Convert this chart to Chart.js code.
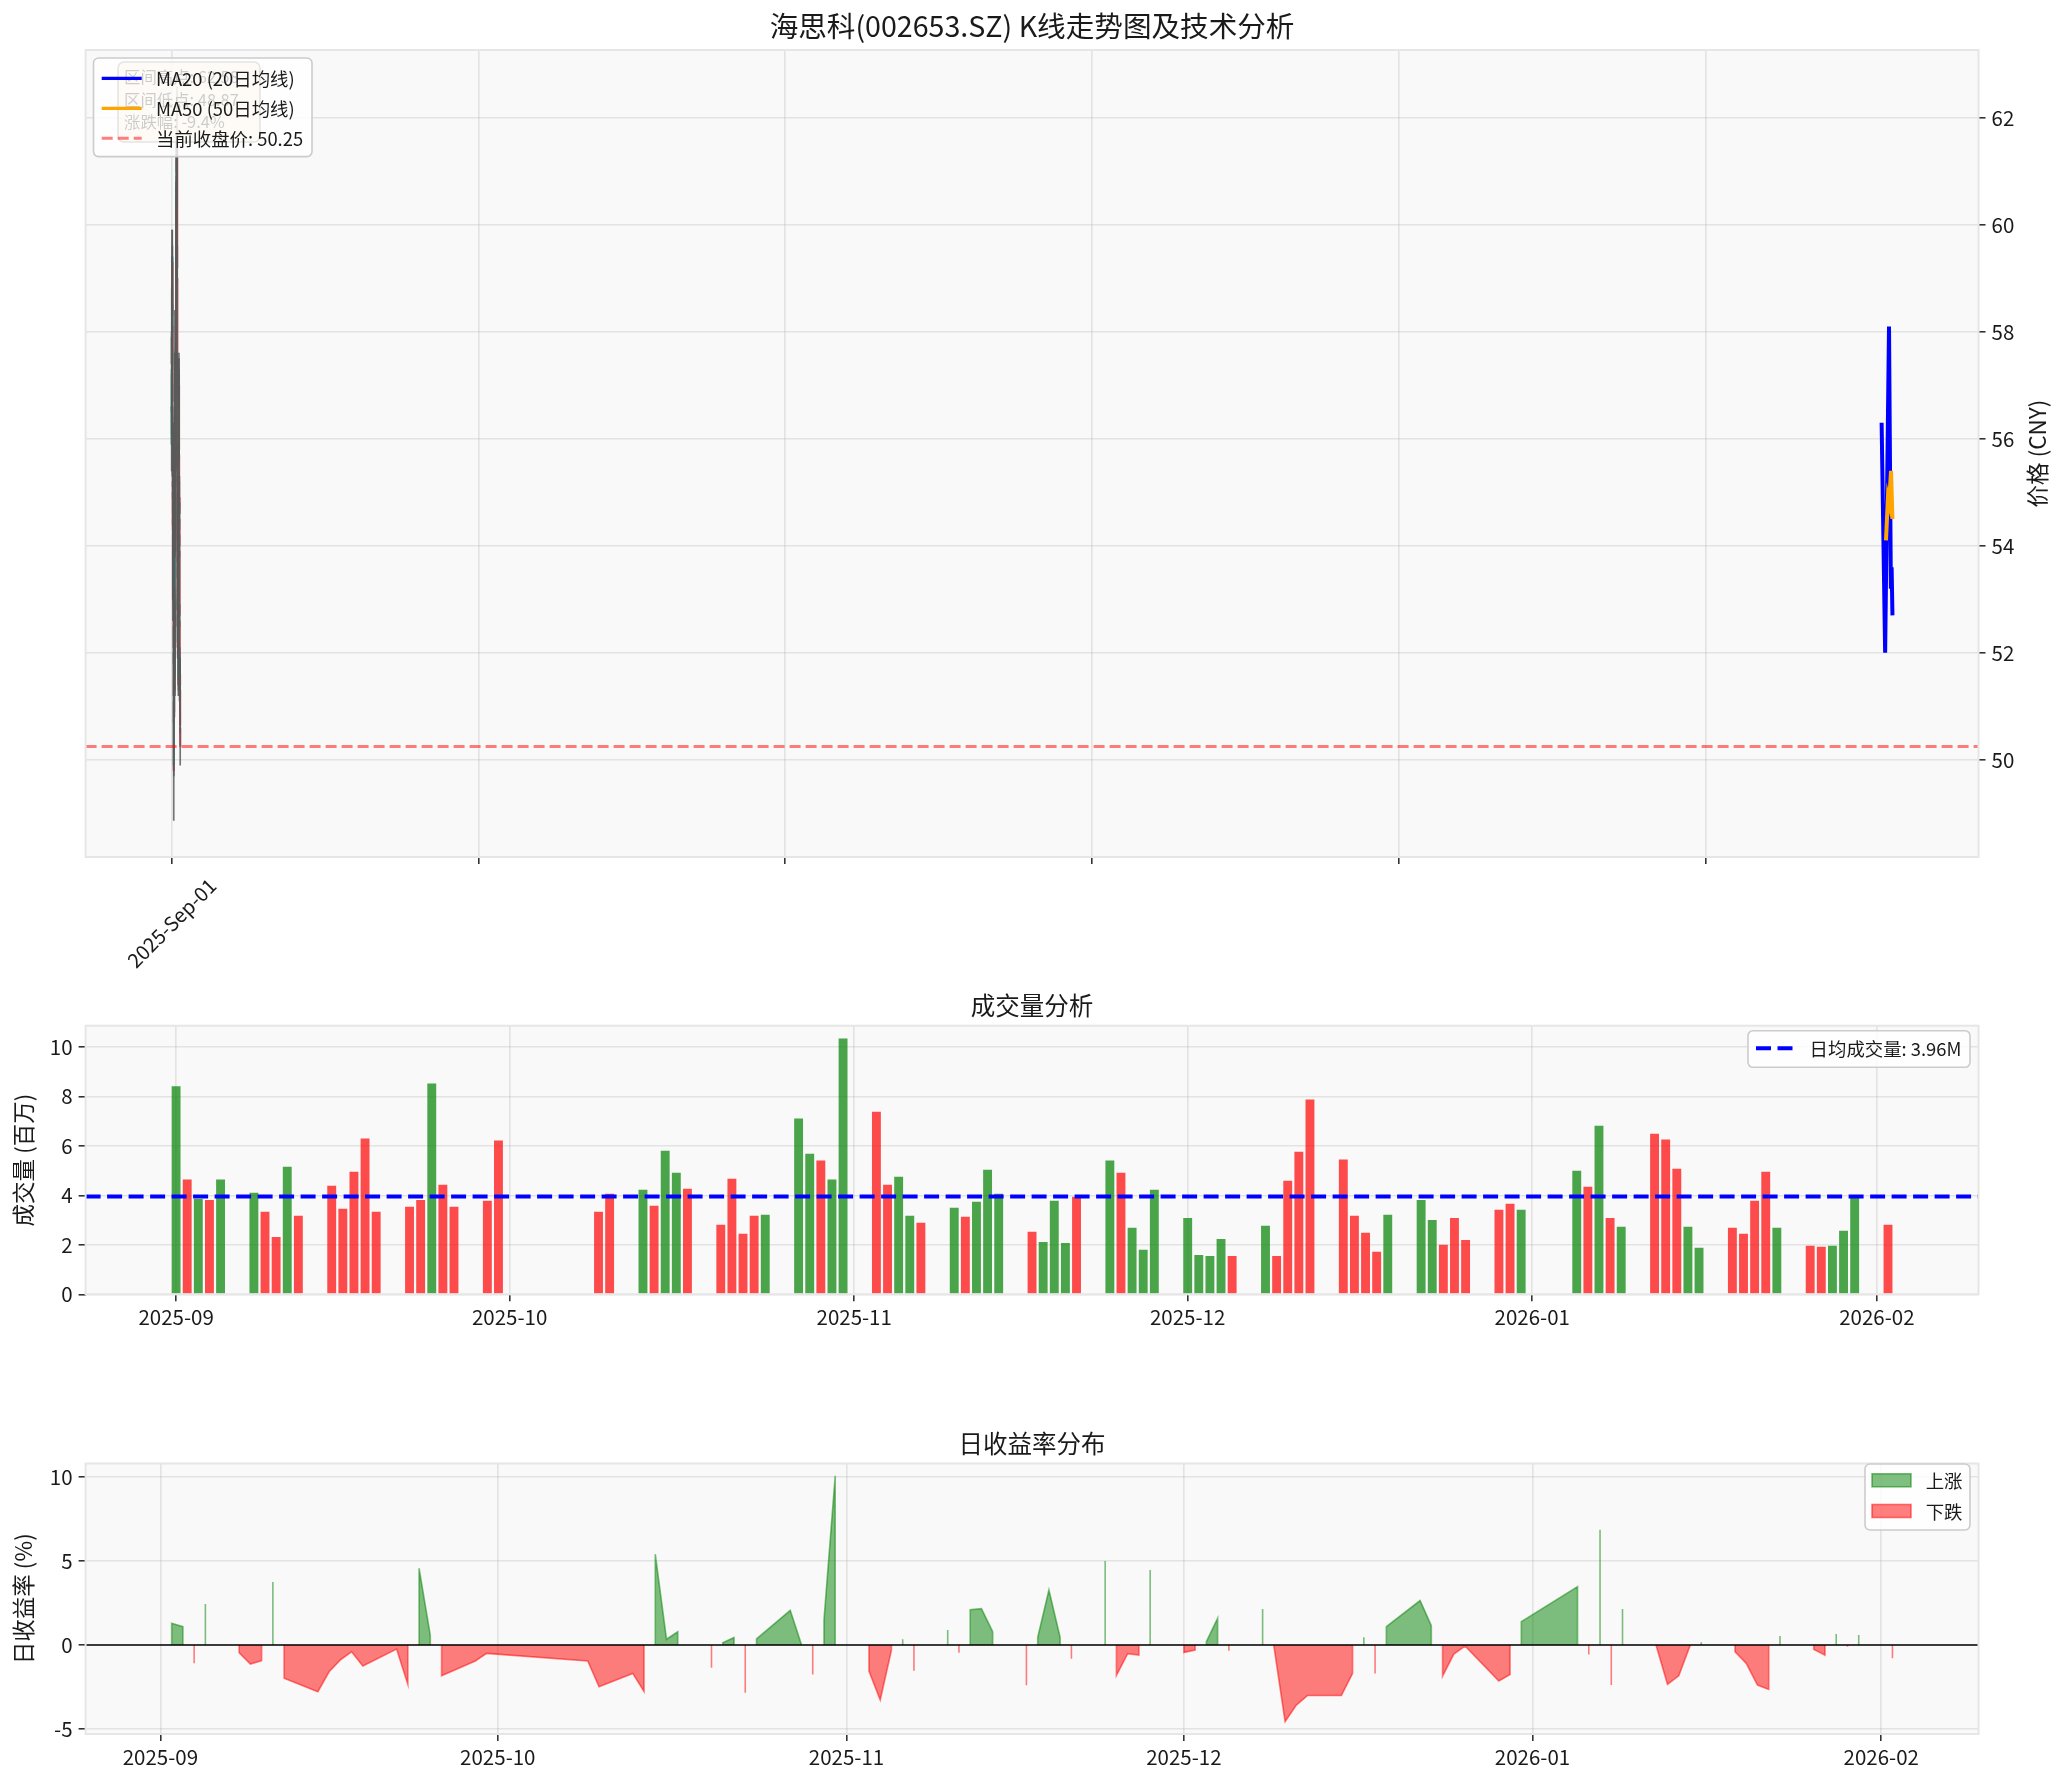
<!DOCTYPE html>
<html>
<head>
<meta charset="utf-8">
<script src="https://cdn.jsdelivr.net/npm/chart.js@4.4.1/dist/chart.umd.min.js"></script>
<style>
  html, body { margin: 0; padding: 0; background: #fff; }
  #wrap { position: relative; width: 2064px; height: 1785px; }
  canvas { position: absolute; left: 0; }
</style>
</head>
<body>
<div id="wrap">
  <canvas id="price" width="2064" height="975" style="top:0px"></canvas>
  <canvas id="volume" width="2064" height="425" style="top:975px"></canvas>
  <canvas id="returns" width="2064" height="385" style="top:1400px"></canvas>
</div>
<script>
// ---- data ----
const tradeDates = [
  '2025-09-01','2025-09-02','2025-09-03','2025-09-04','2025-09-05','2025-09-08','2025-09-09','2025-09-10','2025-09-11','2025-09-12',
  '2025-09-15','2025-09-16','2025-09-17','2025-09-18','2025-09-19','2025-09-22','2025-09-23','2025-09-24','2025-09-25','2025-09-26',
  '2025-09-29','2025-09-30',
  '2025-10-09','2025-10-10','2025-10-13','2025-10-14','2025-10-15','2025-10-16','2025-10-17','2025-10-20','2025-10-21','2025-10-22',
  '2025-10-23','2025-10-24','2025-10-27','2025-10-28','2025-10-29','2025-10-30','2025-10-31',
  '2025-11-03','2025-11-04','2025-11-05','2025-11-06','2025-11-07','2025-11-10','2025-11-11','2025-11-12','2025-11-13','2025-11-14',
  '2025-11-17','2025-11-18','2025-11-19','2025-11-20','2025-11-21','2025-11-24','2025-11-25','2025-11-26','2025-11-27','2025-11-28',
  '2025-12-01','2025-12-02','2025-12-03','2025-12-04','2025-12-05','2025-12-08','2025-12-09','2025-12-10','2025-12-11','2025-12-12',
  '2025-12-15','2025-12-16','2025-12-17','2025-12-18','2025-12-19','2025-12-22','2025-12-23','2025-12-24','2025-12-25','2025-12-26',
  '2025-12-29','2025-12-30','2025-12-31',
  '2026-01-05','2026-01-06','2026-01-07','2026-01-08','2026-01-09','2026-01-12','2026-01-13','2026-01-14','2026-01-15','2026-01-16',
  '2026-01-19','2026-01-20','2026-01-21','2026-01-22','2026-01-23','2026-01-26','2026-01-27','2026-01-28','2026-01-29','2026-01-30',
  '2026-02-02'
];

const candleOpen = [
  55.9, 56.5, 57.4, 57.9, 57.3, 58.9, 58.4, 57.7, 57.4, 59.3, 58.1, 56.6, 55.9, 55.2, 55.0, 54.5, 54.2, 53.2, 55.5, 55.6, 54.6, 54.1,
  53.7, 53.3, 52.0, 51.1, 49.9, 52.6, 52.8, 53.0, 52.3, 52.6, 52.6, 51.3, 51.5, 52.6, 52.4, 51.7, 52.6,
  57.2, 56.5, 55.0, 54.6, 54.8, 54.2, 54.7, 54.4, 55.6, 56.6, 57.0, 55.8, 56.1, 57.9, 58.0, 57.8, 60.3, 59.3, 59.0, 58.9,
  61.2, 60.9, 60.7, 61.0, 61.7, 61.5, 62.2, 61.8, 59.0, 57.2, 55.3, 53.8, 52.9, 52.9, 52.2, 52.8, 54.2, 54.6, 53.6, 53.5, 53.3, 52.2, 51.5,
  52.3, 53.8, 53.7, 57.2, 56.0, 57.2, 57.0, 55.7, 54.9, 54.6, 54.9, 54.5, 53.9, 52.6, 51.4, 51.7, 51.4, 51.3, 51.6, 51.3,
  50.6
];
const candleHigh = [
  57.2, 57.9, 58.6, 58.3, 59.4, 59.9, 58.8, 58.2, 59.9, 59.6, 58.5, 57.0, 56.4, 55.9, 55.6, 55.0, 54.6, 56.2, 56.3, 55.9, 55.0, 54.6,
  54.2, 53.6, 52.5, 51.5, 53.1, 53.4, 53.8, 53.4, 53.2, 53.3, 52.9, 52.0, 53.1, 53.2, 52.7, 52.9, 57.6,
  58.4, 56.9, 55.6, 55.4, 55.2, 55.1, 55.0, 55.9, 57.2, 57.7, 57.3, 56.5, 58.4, 58.7, 58.5, 60.8, 60.7, 59.8, 59.5, 61.4,
  61.8, 61.5, 61.4, 61.9, 62.1, 62.58, 62.5, 62.0, 59.6, 57.6, 55.9, 54.2, 53.6, 53.2, 53.1, 54.5, 55.2, 54.9, 54.0, 53.9, 53.5, 52.6, 52.5,
  54.3, 54.4, 57.5, 57.3, 57.5, 57.6, 57.2, 55.9, 55.3, 55.2, 55.3, 54.8, 54.2, 52.9, 51.9, 52.1, 51.8, 51.9, 51.9, 51.6,
  50.9
];
const candleLow = [
  55.4, 56.1, 57.0, 57.0, 56.9, 58.1, 57.5, 56.8, 57.0, 58.0, 56.4, 55.3, 54.9, 54.6, 54.1, 53.8, 52.6, 53.0, 55.0, 54.4, 53.9, 53.5,
  52.9, 51.8, 50.7, 48.87, 49.7, 52.0, 52.4, 52.0, 51.9, 52.1, 50.9, 50.8, 51.2, 52.0, 51.2, 51.3, 52.3,
  56.2, 54.6, 54.2, 54.2, 53.8, 53.9, 53.9, 54.1, 55.2, 56.3, 55.4, 55.5, 55.8, 57.4, 57.2, 57.6, 59.0, 58.6, 58.4, 58.7,
  60.5, 60.3, 60.3, 60.7, 61.0, 61.2, 61.6, 58.9, 56.8, 55.1, 53.4, 52.5, 52.5, 51.9, 51.9, 52.5, 54.0, 53.4, 53.1, 53.0, 52.0, 51.2, 51.3,
  52.0, 53.2, 53.6, 55.6, 55.8, 56.6, 55.6, 54.6, 54.3, 54.4, 54.3, 53.8, 52.5, 51.1, 51.1, 51.2, 50.9, 51.1, 51.2, 50.5,
  49.9
];
const candleClose = [
  56.6, 57.3, 58.0, 57.4, 58.8, 58.5, 57.8, 57.3, 59.4, 58.3, 56.7, 55.8, 55.3, 55.1, 54.4, 54.3, 53.0, 55.4, 55.7, 54.7, 54.2, 53.9,
  53.4, 52.1, 51.2, 49.8, 52.5, 52.7, 53.1, 52.4, 52.5, 52.7, 51.2, 51.4, 52.5, 52.5, 51.6, 52.4, 57.6,
  56.7, 54.9, 54.7, 54.9, 54.1, 54.6, 54.3, 55.5, 56.7, 57.1, 55.7, 56.0, 57.8, 58.1, 57.6, 60.5, 59.4, 59.1, 58.7, 61.3,
  61.0, 60.8, 60.9, 61.6, 61.4, 62.1, 62.0, 59.2, 57.1, 55.4, 53.7, 52.8, 53.0, 52.1, 52.7, 54.1, 54.7, 53.7, 53.4, 53.4, 52.3, 51.4, 52.1,
  53.9, 53.6, 57.3, 55.9, 57.1, 57.1, 55.8, 54.8, 54.7, 54.8, 54.6, 54.0, 52.7, 51.3, 51.6, 51.5, 51.2, 51.5, 51.4, 50.65,
  50.25
];

// moving averages as drawn (plotted against calendar dates)
const ma20Dates  = ['2025-09-26', '2025-11-07', '2025-12-23', '2026-01-14', '2026-01-23', '2026-02-02'];
const ma20Values = [56.3, 52.0, 58.1, 53.2, 53.6, 52.7];
const ma50Dates  = ['2025-11-17', '2025-12-10', '2025-12-24', '2026-01-16', '2026-02-02'];
const ma50Values = [54.1, 54.9, 54.8, 55.4, 54.5];

const lastClose = 50.25;
const rangeStats = ['区间高点: 62.58', '区间低点: 48.87', '涨跌幅: -9.4%'];

// volume in millions, 1 = green bar, 0 = red bar
const volumes = [
  8.42, 4.64, 3.86, 3.82, 4.64, 4.11, 3.34, 2.32, 5.16, 3.18, 4.39, 3.46, 4.96, 6.30, 3.34, 3.54, 3.82, 8.53, 4.43, 3.54, 3.78, 6.22,
  3.34, 4.07, 4.23, 3.58, 5.81, 4.92, 4.27, 2.81, 4.68, 2.45, 3.18, 3.22, 7.11, 5.69, 5.41, 4.64, 10.35,
  7.39, 4.43, 4.76, 3.18, 2.89, 3.50, 3.14, 3.74, 5.04, 4.07, 2.53, 2.12, 3.78, 2.08, 3.95, 5.41, 4.92, 2.69, 1.80, 4.23,
  3.09, 1.59, 1.55, 2.24, 1.55, 2.77, 1.55, 4.59, 5.77, 7.88, 5.45, 3.18, 2.49, 1.72, 3.22, 3.82, 3.01, 2.00, 3.09, 2.20, 3.42, 3.66, 3.42,
  5.00, 4.35, 6.82, 3.09, 2.73, 6.50, 6.26, 5.08, 2.73, 1.88, 2.69, 2.45, 3.78, 4.96, 2.69, 1.96, 1.92, 1.96, 2.57, 3.99,
  2.81
];
const volumeUp = [
  1,0,1,0,1, 1,0,0,1,0, 0,0,0,0,0, 0,0,1,0,0, 0,0,
  0,0, 1,0,1,1,0, 0,0,0,0,1, 1,1,0,1,1,
  0,0,1,1,0, 1,0,1,1,1, 0,1,1,1,0, 1,0,1,1,1,
  1,1,1,1,0, 1,0,0,0,0, 0,0,0,0,1, 1,1,0,0,0, 0,0,1,
  1,0,1,0,1, 0,0,0,1,1, 0,0,0,0,1, 0,0,1,1,1,
  0
];
const avgVolume = 3.96;

// daily returns in %, starting from the second trading day
const dailyReturns = [
  1.29, 1.09, -1.09, 2.44, -0.46, -1.13, -0.93, 3.75, -1.98, -2.78, -1.59, -0.89, -0.40, -1.25, -0.24, -2.34, 4.56, 0.56, -1.83, -0.95, -0.50,
  -0.95, -2.48, -1.69, -2.76, 5.40, 0.34, 0.79, -1.35, 0.14, 0.44, -2.84, 0.36, 2.06, 0.02, -1.75, 1.49, 10.06,
  -1.55, -3.27, -0.30, 0.34, -1.53, 0.89, -0.46, 2.10, 2.16, 0.79, -2.40, 0.44, 3.27, 0.44, -0.81, 5.00, -1.81, -0.52, -0.60, 4.46,
  -0.44, -0.30, 0.20, 1.59, -0.34, 2.14, -0.05, -4.56, -3.57, -3.00, -3.00, -1.69, 0.46, -1.69, 1.09, 2.64, 1.15, -1.85, -0.54, -0.06, -2.14, -1.75, 1.39,
  3.47, -0.56, 6.85, -2.38, 2.14, -0.05, -2.34, -1.83, -0.05, 0.16, -0.40, -1.09, -2.38, -2.64, 0.54, -0.26, -0.60, 0.65, -0.10, 0.60,
  -0.79
];

// axes
const priceTicks = [50, 52, 54, 56, 58, 60, 62];
const priceXTickDates = ['1970-01-01', '1980-01-01', '1990-01-01', '2000-01-01', '2010-01-01', '2020-01-01'];
const priceXTickLabels = ['2025-Sep-01', '', '', '', '', ''];
const monthTickDates = ['2025-09-01', '2025-10-01', '2025-11-01', '2025-12-01', '2026-01-01', '2026-02-01'];
const monthTickLabels = ['2025-09', '2025-10', '2025-11', '2025-12', '2026-01', '2026-02'];
const volumeTicks = [0, 2, 4, 6, 8, 10];
const returnTicks = [-5, 0, 5, 10];

// ---- styling ----
const FAMILY = '"Noto Sans CJK SC", "DejaVu Sans", sans-serif';
const TEXT = '#1a1a1a';
const PLOT_BG = '#f9f9f9';
const GRID = 'rgba(176,176,176,0.3)';
const SPINE = '#e6e6e6';
const GREEN_BAR = 'rgba(0,128,0,0.7)';
const RED_BAR = 'rgba(255,0,0,0.7)';
const GREEN_FILL = 'rgba(0,128,0,0.5)';
const RED_FILL = 'rgba(255,0,0,0.5)';

Chart.defaults.font.family = FAMILY;
Chart.defaults.color = TEXT;

const dayNum = s => Date.parse(s) / 86400000;
const day0 = dayNum(tradeDates[0]);
const tradeDays = tradeDates.map(s => dayNum(s) - day0);
const returnDays = tradeDays.slice(1);
const lastDay = tradeDays[tradeDays.length - 1];

function margins(lo, hi) {
  const p = (hi - lo) * 0.05;
  return [lo - p, hi + p];
}
const font = size => size + 'px ' + FAMILY;

function roundRect(ctx, x, y, w, h, r) {
  ctx.beginPath();
  ctx.moveTo(x + r, y);
  ctx.lineTo(x + w - r, y);
  ctx.arcTo(x + w, y, x + w, y + r, r);
  ctx.lineTo(x + w, y + h - r);
  ctx.arcTo(x + w, y + h, x + w - r, y + h, r);
  ctx.lineTo(x + r, y + h);
  ctx.arcTo(x, y + h, x, y + h - r, r);
  ctx.lineTo(x, y + r);
  ctx.arcTo(x, y, x + r, y, r);
  ctx.closePath();
}

function drawTextBox(ctx, b) {
  ctx.save();
  roundRect(ctx, b.x, b.y, b.w, b.h, 6);
  ctx.fillStyle = 'rgba(245,222,179,0.5)';
  ctx.fill();
  ctx.strokeStyle = 'rgba(0,0,0,0.5)';
  ctx.lineWidth = 1.6;
  ctx.stroke();
  ctx.fillStyle = '#000';
  ctx.font = font(b.size);
  ctx.textAlign = 'left';
  ctx.textBaseline = 'middle';
  b.lines.forEach((t, i) => ctx.fillText(t, b.tx, b.ty + i * b.step));
  ctx.restore();
}

function drawLegend(ctx, L) {
  ctx.save();
  roundRect(ctx, L.x, L.y, L.w, L.h, 5);
  ctx.fillStyle = 'rgba(255,255,255,0.8)';
  ctx.fill();
  ctx.strokeStyle = '#cccccc';
  ctx.lineWidth = 1.6;
  ctx.stroke();
  ctx.font = font(L.size);
  ctx.textAlign = 'left';
  ctx.textBaseline = 'middle';
  L.items.forEach((it, i) => {
    const cy = L.row0 + i * L.step;
    if (it.kind === 'patch') {
      ctx.fillStyle = it.fill;
      ctx.fillRect(L.hx, cy - 6.5, L.hw, 13);
      ctx.strokeStyle = it.fill;
      ctx.lineWidth = 1.6;
      ctx.strokeRect(L.hx, cy - 6.5, L.hw, 13);
    } else {
      ctx.strokeStyle = it.color;
      ctx.lineWidth = it.width;
      ctx.setLineDash(it.dash || []);
      ctx.beginPath();
      ctx.moveTo(L.hx, cy);
      ctx.lineTo(L.hx + L.hw, cy);
      ctx.stroke();
      ctx.setLineDash([]);
    }
    ctx.fillStyle = TEXT;
    ctx.fillText(it.label, L.tx, cy + 1);
  });
  ctx.restore();
}

const deco = {
  id: 'deco',
  beforeDraw(chart) {
    const { ctx, chartArea: a } = chart;
    ctx.save();
    ctx.fillStyle = PLOT_BG;
    ctx.fillRect(a.left, a.top, a.right - a.left, a.bottom - a.top);
    ctx.restore();
  },
  afterDatasetsDraw(chart) {
    const { ctx, chartArea: a } = chart;
    ctx.save();
    ctx.strokeStyle = SPINE;
    ctx.lineWidth = 2;
    ctx.strokeRect(a.left, a.top, a.right - a.left, a.bottom - a.top);
    ctx.restore();
  },
  afterDraw(chart, args, o) {
    const { ctx, chartArea: a } = chart;
    ctx.save();
    ctx.fillStyle = TEXT;
    ctx.textAlign = 'center';
    ctx.textBaseline = 'middle';
    if (o.title) {
      ctx.font = font(o.title.size);
      ctx.fillText(o.title.text, (a.left + a.right) / 2, o.title.y);
    }
    if (o.ylabel) {
      ctx.save();
      ctx.translate(o.ylabel.x, (a.top + a.bottom) / 2);
      ctx.rotate(-Math.PI / 2);
      ctx.font = font(o.ylabel.size);
      ctx.fillText(o.ylabel.text, 0, 0);
      ctx.restore();
    }
    if (o.slantLabels) {
      const s = o.slantLabels;
      s.values.forEach((v, i) => {
        if (!s.labels[i]) return;
        ctx.save();
        ctx.translate(chart.scales.x.getPixelForValue(v), s.y);
        ctx.rotate(-Math.PI / 4);
        ctx.font = font(s.size);
        ctx.fillText(s.labels[i], 0, 0);
        ctx.restore();
      });
    }
    if (o.textbox) drawTextBox(ctx, o.textbox);
    if (o.legend) drawLegend(ctx, o.legend);
    ctx.restore();
  }
};

function gridOpts() {
  return { color: GRID, lineWidth: 1.6, tickColor: '#333', tickLength: 7, tickWidth: 1.6, offset: false };
}

// ---- panel 1: candles + moving averages ----
const [pxMin, pxMax] = margins(0, dayNum(tradeDates[tradeDates.length - 1]));
const [pyMin, pyMax] = margins(Math.min(...candleLow), Math.max(...candleHigh));
const priceXTicks = priceXTickDates.map(dayNum);

new Chart(document.getElementById('price'), {
  type: 'bar',
  data: {
    datasets: [
      {
        type: 'line', order: 1,
        data: ma20Dates.map((d, i) => ({ x: dayNum(d), y: ma20Values[i] })),
        borderColor: 'blue', borderWidth: 4, pointRadius: 0, tension: 0
      },
      {
        type: 'line', order: 0,
        data: ma50Dates.map((d, i) => ({ x: dayNum(d), y: ma50Values[i] })),
        borderColor: 'orange', borderWidth: 4, pointRadius: 0, tension: 0
      },
      {
        type: 'line', order: 2,
        data: [{ x: pxMin, y: lastClose }, { x: pxMax, y: lastClose }],
        borderColor: 'rgba(255,0,0,0.5)', borderWidth: 3, borderDash: [11, 5], pointRadius: 0
      },
      {
        type: 'bar', order: 3, grouped: false, barThickness: 1,
        data: candleHigh.map((h, i) => ({ x: i, y: [candleLow[i], h] })),
        backgroundColor: 'rgba(90,90,90,0.85)'
      },
      {
        type: 'bar', order: 4, grouped: false, barThickness: 1.5,
        data: candleOpen.map((o, i) => ({ x: i, y: [o, candleClose[i]] })),
        backgroundColor: candleOpen.map((o, i) => candleClose[i] >= o ? '#26a69a' : '#ef5350')
      }
    ]
  },
  options: {
    responsive: false, animation: false, events: [],
    layout: { padding: { left: 85.6, right: 0, top: 50, bottom: 8 } },
    plugins: {
      legend: { display: false }, tooltip: { enabled: false },
      deco: {
        title: { text: '海思科(002653.SZ) K线走势图及技术分析', y: 26.3, size: 28.6 },
        slantLabels: { values: priceXTicks, labels: priceXTickLabels, y: 923, size: 20 },
        textbox: { x: 118, y: 62, w: 142, h: 80, tx: 124, ty: 77, step: 22.5, size: 16.4, lines: rangeStats },
        legend: {
          x: 93.5, y: 58, w: 218.5, h: 98.6, row0: 78.3, step: 30, hx: 101.7, hw: 40, tx: 156, size: 18.4,
          items: [
            { kind: 'line', color: 'blue', width: 3.2, label: 'MA20 (20日均线)' },
            { kind: 'line', color: 'orange', width: 3.2, label: 'MA50 (50日均线)' },
            { kind: 'line', color: 'rgba(255,0,0,0.5)', width: 3, dash: [11, 5], label: '当前收盘价: ' + lastClose.toFixed(2) }
          ]
        }
      }
    },
    scales: {
      x: {
        type: 'linear', min: pxMin, max: pxMax, offset: false,
        grid: gridOpts(), border: { display: false },
        ticks: { autoSkip: false, maxRotation: 0, callback: () => '' },
        afterBuildTicks: s => { s.ticks = priceXTicks.map(v => ({ value: v })); },
        afterFit: s => { s.height = 110; }
      },
      y: {
        type: 'linear', position: 'right', min: pyMin, max: pyMax,
        grid: gridOpts(), border: { display: false },
        ticks: { font: { size: 20.5 }, padding: 6, color: TEXT },
        afterBuildTicks: s => { s.ticks = priceTicks.map(v => ({ value: v })); },
        afterFit: s => { s.width = 85.5; }
      }
    }
  },
  plugins: [deco, {
    id: 'rightLabel',
    afterDraw(chart) {
      const { ctx, chartArea: a } = chart;
      ctx.save();
      ctx.translate(2037, (a.top + a.bottom) / 2);
      ctx.rotate(-Math.PI / 2);
      ctx.font = font(22.5);
      ctx.fillStyle = TEXT;
      ctx.textAlign = 'center';
      ctx.textBaseline = 'middle';
      ctx.fillText('价格 (CNY)', 0, 0);
      ctx.restore();
    }
  }]
});

// ---- panel 2: volume ----
const [vxMin, vxMax] = margins(-0.4, lastDay + 0.4);
const vyMax = Math.max(...volumes) * 1.05;
const monthTicks = monthTickDates.map(d => dayNum(d) - day0);

new Chart(document.getElementById('volume'), {
  type: 'bar',
  data: {
    datasets: [
      {
        type: 'line', order: 0,
        data: [{ x: vxMin, y: avgVolume }, { x: vxMax, y: avgVolume }],
        borderColor: 'blue', borderWidth: 4, borderDash: [15, 6.5], pointRadius: 0
      },
      {
        type: 'bar', order: 1, grouped: false,
        data: volumes.map((v, i) => ({ x: tradeDays[i], y: v })),
        backgroundColor: volumeUp.map(u => u ? GREEN_BAR : RED_BAR),
        categoryPercentage: 1, barPercentage: 0.8
      }
    ]
  },
  options: {
    responsive: false, animation: false, events: [],
    layout: { padding: { left: 0, right: 85.5, top: 50.7, bottom: 65.7 } },
    plugins: {
      legend: { display: false }, tooltip: { enabled: false },
      deco: {
        title: { text: '成交量分析', y: 30.7, size: 24.5 },
        ylabel: { text: '成交量 (百万)', x: 23.7, size: 22.5 },
        legend: {
          x: 1748, y: 55.7, w: 222, h: 36.6, row0: 73.3, step: 30, hx: 1756, hw: 37.6, tx: 1809.6, size: 18.4,
          items: [{ kind: 'line', color: 'blue', width: 4, dash: [15, 6.5], label: '日均成交量: ' + avgVolume.toFixed(2) + 'M' }]
        }
      }
    },
    scales: {
      x: {
        type: 'linear', min: vxMin, max: vxMax, offset: false,
        grid: gridOpts(), border: { display: false },
        ticks: { autoSkip: false, maxRotation: 0, font: { size: 20.5 }, padding: 4, color: TEXT,
                 callback: (v, i) => monthTickLabels[i] },
        afterBuildTicks: s => { s.ticks = monthTicks.map(v => ({ value: v })); },
        afterFit: s => { s.height = 40; }
      },
      y: {
        type: 'linear', min: 0, max: vyMax,
        grid: gridOpts(), border: { display: false },
        ticks: { font: { size: 20.5 }, padding: 6, color: TEXT },
        afterBuildTicks: s => { s.ticks = volumeTicks.map(v => ({ value: v })); },
        afterFit: s => { s.width = 85.6; }
      }
    }
  },
  plugins: [deco]
});

// ---- panel 3: daily returns ----
function fillRuns(test) {
  const pts = [];
  let run = [];
  const flush = () => {
    if (!run.length) return;
    const a = run[0].x, b = run[run.length - 1].x;
    pts.push({ x: a, y: 0 }, ...run, { x: b, y: 0 }, { x: b, y: null });
    run = [];
  };
  dailyReturns.forEach((r, k) => {
    if (test(r)) run.push({ x: returnDays[k], y: r }); else flush();
  });
  flush();
  return pts;
}
const [rxMin, rxMax] = margins(returnDays[0], lastDay);
const [ryMin, ryMax] = margins(Math.min(...dailyReturns), Math.max(...dailyReturns));

new Chart(document.getElementById('returns'), {
  type: 'line',
  data: {
    datasets: [
      {
        order: 0, data: [{ x: rxMin, y: 0 }, { x: rxMax, y: 0 }],
        borderColor: 'black', borderWidth: 1.6, pointRadius: 0
      },
      {
        order: 1, data: fillRuns(r => r > 0), fill: 'origin', spanGaps: false,
        borderColor: GREEN_FILL, backgroundColor: GREEN_FILL, borderWidth: 1.6, pointRadius: 0, tension: 0
      },
      {
        order: 2, data: fillRuns(r => r < 0), fill: 'origin', spanGaps: false,
        borderColor: RED_FILL, backgroundColor: RED_FILL, borderWidth: 1.6, pointRadius: 0, tension: 0
      }
    ]
  },
  options: {
    responsive: false, animation: false, events: [],
    layout: { padding: { left: 0, right: 85.5, top: 63.5, bottom: 11 } },
    plugins: {
      legend: { display: false }, tooltip: { enabled: false },
      deco: {
        title: { text: '日收益率分布', y: 44, size: 24.5 },
        ylabel: { text: '日收益率 (%)', x: 23.7, size: 22.5 },
        legend: {
          x: 1865, y: 64, w: 105, h: 66, row0: 80.3, step: 30.7, hx: 1872, hw: 39, tx: 1925.7, size: 18.4,
          items: [
            { kind: 'patch', fill: GREEN_FILL, label: '上涨' },
            { kind: 'patch', fill: RED_FILL, label: '下跌' }
          ]
        }
      }
    },
    scales: {
      x: {
        type: 'linear', min: rxMin, max: rxMax, offset: false,
        grid: gridOpts(), border: { display: false },
        ticks: { autoSkip: false, maxRotation: 0, font: { size: 20.5 }, padding: 4, color: TEXT,
                 callback: (v, i) => monthTickLabels[i] },
        afterBuildTicks: s => { s.ticks = monthTicks.map(v => ({ value: v })); },
        afterFit: s => { s.height = 40; }
      },
      y: {
        type: 'linear', min: ryMin, max: ryMax,
        grid: gridOpts(), border: { display: false },
        ticks: { font: { size: 20.5 }, padding: 6, color: TEXT },
        afterBuildTicks: s => { s.ticks = returnTicks.map(v => ({ value: v })); },
        afterFit: s => { s.width = 85.6; }
      }
    }
  },
  plugins: [deco]
});
</script>
</body>
</html>
